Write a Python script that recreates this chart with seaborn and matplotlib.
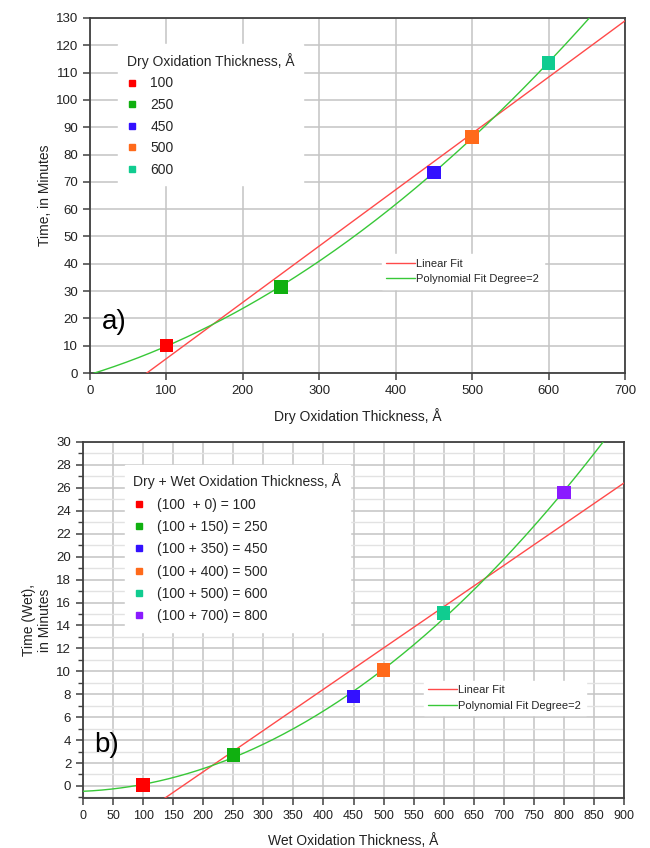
import numpy as np
import pandas as pd
import matplotlib
matplotlib.use("Agg")
import matplotlib.pyplot as plt
from matplotlib.lines import Line2D
from matplotlib.ticker import MultipleLocator
import seaborn as sns

# ---- data ----
dry_thickness = [100, 250, 450, 500, 600]
dry_time = [10.0, 31.5, 73.5, 86.5, 113.5]
dry_labels = ["100", "250", "450", "500", "600"]

wet_thickness = [100, 250, 450, 500, 600, 800]
wet_time = [0.1, 2.7, 7.8, 10.1, 15.1, 25.6]
wet_labels = ["(100  + 0) = 100", "(100 + 150) = 250", "(100 + 350) = 450",
              "(100 + 400) = 500", "(100 + 500) = 600", "(100 + 700) = 800"]

point_colors = ["#FF0000", "#10B010", "#3311FF", "#FF6A1A", "#10CC90", "#8A1AFF"]
lin_color = "#FF4A4A"
poly_color = "#38C838"

sns.set_theme(style="white")
plt.rcParams['font.family'] = ['Liberation Sans', 'DejaVu Sans']

fig = plt.figure(figsize=(6.5, 8.48), dpi=100)
ax1 = fig.add_axes([90/650, 1-373/848, (625-90)/650, (373-18)/848])
ax2 = fig.add_axes([83/650, 1-798/848, (624-83)/650, (798-442)/848])

spine_c = "#404040"
txt_c = "#222222"


def style(ax):
    for s in ax.spines.values():
        s.set_color(spine_c)
        s.set_linewidth(1.3)
    ax.tick_params(axis='both', which='both', direction='out', color=spine_c,
                   labelsize=9.5, labelcolor=txt_c, left=True, bottom=True)
    ax.tick_params(axis='both', which='major', length=5, width=1.1)
    ax.tick_params(axis='both', which='minor', length=3.5, width=1.0)


def panel(ax, xs, ys, labels, xmax, ymin, ymax, title, xlabel, ylabel, tag, tagpos, legpos, fitpos, ylpad, lsp):
    cols = point_colors[:len(xs)]
    df = pd.DataFrame({"x": xs, "y": ys, "lab": labels})
    xx = np.linspace(0, xmax, 400)
    lin = np.polyval(np.polyfit(xs, ys, 1), xx)
    poly = np.polyval(np.polyfit(xs, ys, 2), xx)
    fits = pd.DataFrame({"x": np.concatenate([xx, xx]),
                         "y": np.concatenate([lin, poly]),
                         "fit": ["Linear Fit"] * len(xx) + ["Polynomial Fit Degree=2"] * len(xx)})
    sns.lineplot(data=fits, x="x", y="y", hue="fit",
                 palette={"Linear Fit": lin_color, "Polynomial Fit Degree=2": poly_color},
                 linewidth=1.0, ax=ax, legend=False, zorder=3)
    sns.scatterplot(data=df, x="x", y="y", hue="lab", palette=dict(zip(labels, cols)),
                    marker="s", s=95, edgecolor="none", ax=ax, legend=False, zorder=4)
    ax.set_xlim(0, xmax)
    ax.set_ylim(ymin, ymax)
    ax.set_xlabel(xlabel, fontsize=10, color=txt_c, labelpad=8)
    ax.set_ylabel(ylabel, fontsize=10, color=txt_c, labelpad=ylpad, multialignment="center")
    style(ax)
    # point legend
    h1 = [Line2D([], [], marker="s", linestyle="none", color=c, markersize=4.5) for c in cols]
    leg1 = ax.legend(h1, labels, title=title, loc="upper left", bbox_to_anchor=legpos,
                     frameon=True, fancybox=False, framealpha=1, edgecolor="white",
                     fontsize=10, title_fontsize=10, handlelength=0.8, handletextpad=0.9,
                     labelspacing=lsp, borderpad=0.6)
    leg1._legend_box.align = "left"
    ax.add_artist(leg1)
    h2 = [Line2D([], [], color=lin_color, lw=1.0), Line2D([], [], color=poly_color, lw=1.0)]
    ax.legend(h2, ["Linear Fit", "Polynomial Fit Degree=2"], loc="upper left",
              bbox_to_anchor=fitpos, frameon=True, fancybox=False, framealpha=1,
              edgecolor="white", fontsize=8, handlelength=2.6, handletextpad=0.1,
              labelspacing=0.5, borderpad=0.4)
    ax.text(tagpos[0], tagpos[1], tag, transform=ax.transAxes, fontsize=20,
            color="black", ha="left", va="center", zorder=5)


panel(ax1, dry_thickness, dry_time, dry_labels, 700, 0, 130,
      "Dry Oxidation Thickness, Å", "Dry Oxidation Thickness, Å", "Time, in Minutes",
      "a)", (0.023, 0.145), (0.04, 0.945), (0.535, 0.35), 3, 0.55)
ax1.xaxis.set_major_locator(MultipleLocator(100))
ax1.yaxis.set_major_locator(MultipleLocator(10))
ax1.grid(True, which="major", color="#C4C4C4", linewidth=1.1)
ax1.set_axisbelow(True)

panel(ax2, wet_thickness, wet_time, wet_labels, 900, -1.05, 30,
      "Dry + Wet Oxidation Thickness, Å", "Wet Oxidation Thickness, Å", "Time (Wet),\nin Minutes",
      "b)", (0.02, 0.15), (0.065, 0.955), (0.62, 0.345), 3, 0.6)
ax2.xaxis.set_major_locator(MultipleLocator(50))
ax2.yaxis.set_major_locator(MultipleLocator(2))
ax2.yaxis.set_minor_locator(MultipleLocator(1))
ax2.grid(True, which="major", color="#C4C4C4", linewidth=1.1)
ax2.grid(True, which="minor", axis="y", color="#E2E2E2", linewidth=1.0)
ax2.set_axisbelow(True)
ax2.tick_params(axis="x", labelsize=9)

fig.savefig("out.png", dpi=100)
